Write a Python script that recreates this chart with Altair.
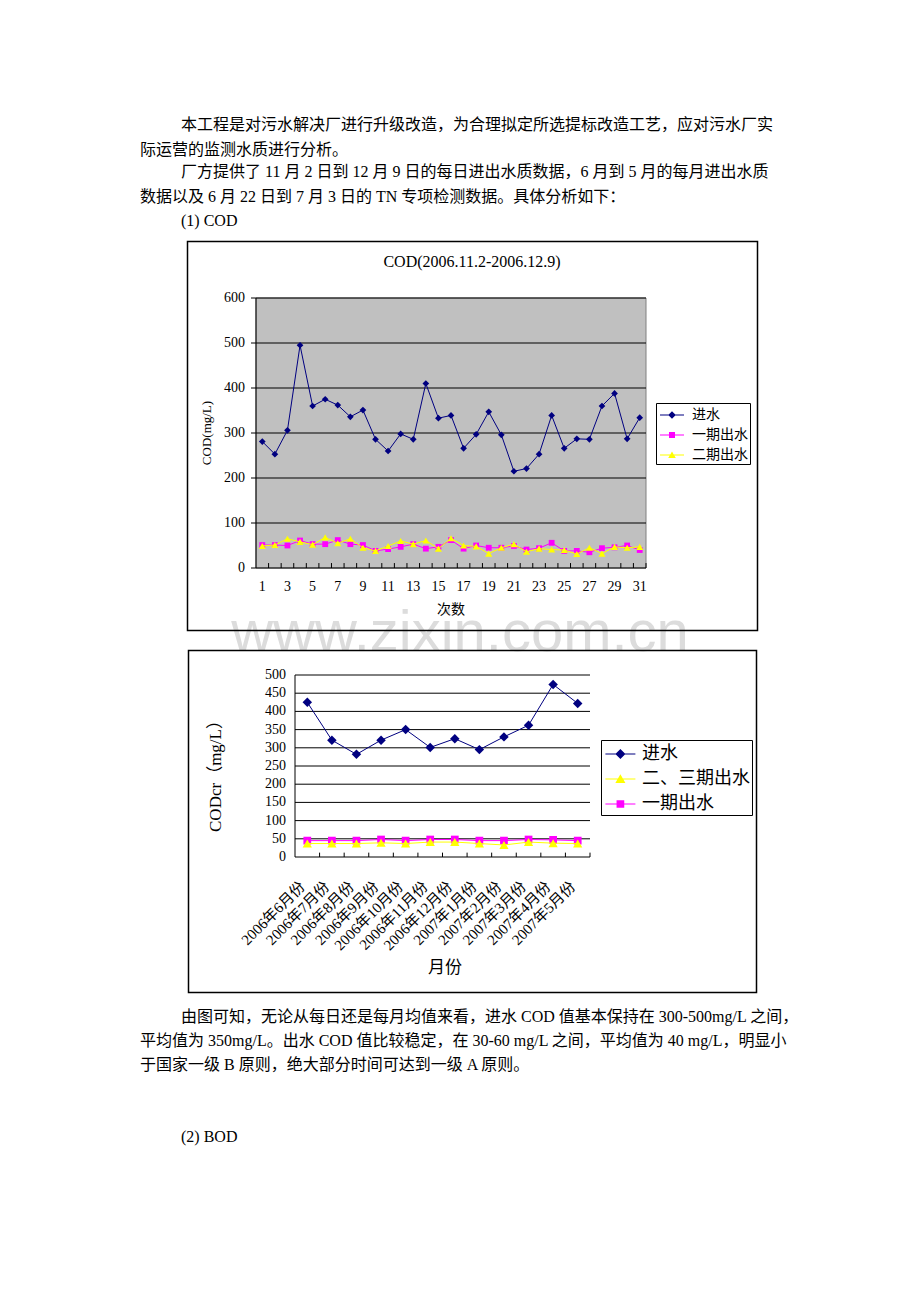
import json
import altair as alt
import pandas as pd

W, H = 920, 1302
LATIN = "Liberation Serif, Noto Sans CJK SC"
CJK = "Liberation Serif, Noto Sans CJK SC"

# ---------------- text of the page ----------------
body_top = [
    "本工程是对污水解决厂进行升级改造，为合理拟定所选提标改造工艺，应对污水厂实",
    "际运营的监测水质进行分析。",
    "厂方提供了 11 月 2 日到 12 月 9 日的每日进出水质数据，6 月到 5 月的每月进出水质",
    "数据以及 6 月 22 日到 7 月 3 日的 TN 专项检测数据。具体分析如下：",
    "(1) COD",
]
body_bottom = [
    "由图可知，无论从每日还是每月均值来看，进水 COD 值基本保持在 300-500mg/L 之间，",
    "平均值为 350mg/L。出水 COD 值比较稳定，在 30-60 mg/L 之间，平均值为 40 mg/L，明显小",
    "于国家一级 B 原则，绝大部分时间可达到一级 A 原则。",
    "(2) BOD",
]
watermark = "www.zixin.com.cn"

# ---------------- chart 1 data (daily) ----------------
chart1_title = "COD(2006.11.2-2006.12.9)"
chart1_xtitle = "次数"
chart1_ytitle = "COD(mg/L)"
days = list(range(1, 32))
cod_in = [281, 253, 306, 495, 360, 375, 362, 336, 351, 286, 260, 298, 286, 410, 333, 339,
          266, 297, 347, 296, 215, 221, 253, 339, 266, 287, 286, 360, 388, 287, 334]
cod_out1 = [51, 51, 50, 61, 53, 53, 62, 53, 51, 38, 42, 47, 53, 43, 47, 62,
            43, 50, 45, 45, 49, 41, 44, 56, 38, 38, 35, 44, 46, 50, 40]
cod_out2 = [49, 51, 65, 58, 52, 68, 55, 65, 45, 38, 49, 60, 53, 61, 43, 66,
            50, 48, 32, 45, 53, 36, 43, 41, 40, 31, 45, 32, 47, 45, 47]
series1 = ["进水", "一期出水", "二期出水"]
yticks1 = [0, 100, 200, 300, 400, 500, 600]
xlabels1 = list(range(1, 32, 2))

# ---------------- chart 2 data (monthly) ----------------
chart2_xtitle = "月份"
chart2_ytitle = "CODcr（mg/L）"
months = ["2006年6月份", "2006年7月份", "2006年8月份", "2006年9月份", "2006年10月份",
          "2006年11月份", "2006年12月份", "2007年1月份", "2007年2月份", "2007年3月份",
          "2007年4月份", "2007年5月份"]
codcr_in = [425, 321, 282, 321, 350, 301, 325, 295, 330, 362, 474, 422]
codcr_out23 = [37, 37, 37, 39, 37, 41, 41, 37, 33, 41, 38, 37]
codcr_out1 = [45, 45, 45, 48, 45, 48, 48, 45, 45, 48, 47, 45]
series2 = ["进水", "二、三期出水", "一期出水"]
yticks2 = list(range(0, 501, 50))

NAVY, MAG, YEL = "#000080", "#FF00FF", "#FFFF00"


def text_layer(s, x, y, size=16, color="black", font=CJK, align="left", angle=0):
    return alt.Chart(pd.DataFrame({"t": [s]})).mark_text(
        align=align, baseline="middle", font=font, fontSize=size, color=color, angle=angle
    ).encode(text="t:N", x=alt.value(x), y=alt.value(y))


def frame(x0, y0, x1, y1):
    return alt.Chart(pd.DataFrame({"k": [0]})).mark_rect(
        fill="white", fillOpacity=0, stroke="black", strokeWidth=1.5
    ).encode(x=alt.value(x0), x2=alt.value(x1), y=alt.value(y0), y2=alt.value(y1))


def legend_layer(series, colors, paths, size, lx, ly, fsize, loff, pad, rowpad):
    leg = alt.Legend(orient="none", legendX=lx, legendY=ly, title=None, padding=pad,
                     strokeColor="black", fillColor="white", labelFont=CJK,
                     labelFontSize=fsize, labelColor="black", symbolSize=size,
                     symbolStrokeWidth=0, symbolOpacity=1, labelOffset=loff,
                     rowPadding=rowpad, labelLimit=400, cornerRadius=0)
    df = pd.DataFrame({"series": series})
    return alt.Chart(df).mark_point(filled=True, opacity=1, size=size).encode(
        x=alt.value(-400), y=alt.value(-400),
        color=alt.Color("series:N", scale=alt.Scale(domain=series, range=colors), legend=leg),
        shape=alt.Shape("series:N", scale=alt.Scale(domain=series, range=paths), legend=leg),
    )


def series_layers(xs, ys, color, shape, size, sx, sy):
    df = pd.DataFrame({"x": xs, "v": ys})
    base = alt.Chart(df).encode(
        x=alt.X("x:Q", scale=sx, axis=None),
        y=alt.Y("v:Q", scale=sy, axis=None),
    )
    return [base.mark_line(color=color, strokeWidth=1),
            base.mark_point(shape=shape, filled=True, color=color, size=size, opacity=1)]


# ================= chart 1 =================
sx1 = alt.Scale(domain=[0.5, 31.5], range=[256, 646], nice=False, zero=False)
sy1 = alt.Scale(domain=[0, 600], range=[568, 298], nice=False, zero=False)
x_lo1, x_hi1 = days[0] - 0.5, days[-1] + 0.5

bg1 = alt.Chart(pd.DataFrame({"a": [x_lo1], "b": [x_hi1],
                              "c": [yticks1[0]], "d": [yticks1[-1]]})).mark_rect(
    fill="#C0C0C0", stroke="#808080", strokeWidth=1
).encode(x=alt.X("a:Q", scale=sx1, axis=None), x2="b:Q",
         y=alt.Y("c:Q", scale=sy1, axis=None), y2="d:Q")

grid1 = alt.Chart(pd.DataFrame({"g": yticks1[1:], "a": x_lo1, "b": x_hi1})
                  ).mark_rule(color="black", strokeWidth=1).encode(
    x=alt.X("a:Q", scale=sx1, axis=None), x2="b:Q",
    y=alt.Y("g:Q", scale=sy1, axis=None))

# axis lines (left and bottom)
dom1 = alt.Chart(pd.DataFrame({"a": [x_lo1, x_lo1], "b": [x_lo1, x_hi1],
                               "c": [0, 0], "d": [600, 0]})
                 ).mark_rule(color="black", strokeWidth=1).encode(
    x=alt.X("a:Q", scale=sx1, axis=None), x2="b:Q",
    y=alt.Y("c:Q", scale=sy1, axis=None), y2="d:Q")

ticks1 = alt.Chart(pd.DataFrame({"b": [d + 0.5 for d in days], "y0": 0, "y1": 11})
                   ).mark_rule(color="black", strokeWidth=1).encode(
    x=alt.X("b:Q", scale=sx1, axis=None),
    y=alt.Y("y0:Q", scale=sy1, axis=None), y2="y1:Q")

yt1 = alt.Chart(pd.DataFrame({"v": yticks1}))
ytick_marks1 = yt1.mark_rule(color="black", strokeWidth=1).encode(
    x=alt.value(251), x2=alt.value(256), y=alt.Y("v:Q", scale=sy1, axis=None))
ylabels1 = yt1.mark_text(align="right", baseline="middle", font=LATIN, fontSize=14,
                         color="black").encode(
    x=alt.value(245), y=alt.Y("v:Q", scale=sy1, axis=None), text="v:Q")
xlabels1_l = alt.Chart(pd.DataFrame({"d": xlabels1})).mark_text(
    align="center", baseline="middle", font=LATIN, fontSize=14, color="black").encode(
    x=alt.X("d:Q", scale=sx1, axis=None), y=alt.value(587), text="d:Q")

paths1 = [
    "M-0.8,-0.05L1.6,-0.05L1.6,0.05L-0.8,0.05Z M0.4,-0.38L0.78,0L0.4,0.38L0.02,0Z",
    "M-0.8,-0.05L1.6,-0.05L1.6,0.05L-0.8,0.05Z M0.1,-0.3L0.7,-0.3L0.7,0.3L0.1,0.3Z",
    "M-0.8,-0.05L1.6,-0.05L1.6,0.05L-0.8,0.05Z M0.4,-0.36L0.78,0.3L0.02,0.3Z",
]
leg1 = legend_layer(series1, [NAVY, MAG, YEL], paths1, 400, 656, 403, 14, 14, 2, 3)

c1_layers = [bg1, grid1, ticks1, dom1, ytick_marks1, ylabels1, xlabels1_l]
c1_layers += series_layers(days, cod_in, NAVY, "diamond", 45, sx1, sy1)
c1_layers += series_layers(days, cod_out1, MAG, "square", 34, sx1, sy1)
c1_layers += series_layers(days, cod_out2, YEL, "triangle-up", 50, sx1, sy1)
c1_layers += [leg1]
chart1 = alt.layer(*c1_layers)

# ================= chart 2 =================
idx = list(range(len(months)))
sx2 = alt.Scale(domain=[-0.5, len(months) - 0.5], range=[295, 590], nice=False, zero=False)
sy2 = alt.Scale(domain=[0, 500], range=[857, 675], nice=False, zero=False)
x_lo2, x_hi2 = -0.5, len(months) - 0.5

grid2 = alt.Chart(pd.DataFrame({"g": yticks2, "a": x_lo2, "b": x_hi2})
                  ).mark_rule(color="black", strokeWidth=1).encode(
    x=alt.X("a:Q", scale=sx2, axis=None), x2="b:Q",
    y=alt.Y("g:Q", scale=sy2, axis=None))

dom2 = alt.Chart(pd.DataFrame({"a": [x_lo2], "c": [0], "d": [500]})
                 ).mark_rule(color="black", strokeWidth=1).encode(
    x=alt.X("a:Q", scale=sx2, axis=None),
    y=alt.Y("c:Q", scale=sy2, axis=None), y2="d:Q")

ticks2 = alt.Chart(pd.DataFrame({"b": [i + 0.5 for i in idx], "y0": 0, "y1": 12})
                   ).mark_rule(color="black", strokeWidth=1).encode(
    x=alt.X("b:Q", scale=sx2, axis=None),
    y=alt.Y("y0:Q", scale=sy2, axis=None), y2="y1:Q")

ylabels2 = alt.Chart(pd.DataFrame({"v": yticks2})).mark_text(
    align="right", baseline="middle", font=LATIN, fontSize=14, color="black").encode(
    x=alt.value(286), y=alt.Y("v:Q", scale=sy2, axis=None), text="v:Q")

xlabels2 = alt.Chart(pd.DataFrame({"i": idx, "m": months})).mark_text(
    align="right", baseline="middle", font=LATIN, fontSize=15, color="black",
    angle=315, dx=-3.5, dy=-3.5).encode(
    x=alt.X("i:Q", scale=sx2, axis=None), y=alt.value(884), text="m:N")

paths2 = [
    "M-0.8,-0.05L1.7,-0.05L1.7,0.05L-0.8,0.05Z M0.45,-0.42L0.87,0L0.45,0.42L0.03,0Z",
    "M-0.8,-0.05L1.7,-0.05L1.7,0.05L-0.8,0.05Z M0.45,-0.4L0.87,0.33L0.03,0.33Z",
    "M-0.8,-0.05L1.7,-0.05L1.7,0.05L-0.8,0.05Z M0.13,-0.32L0.77,-0.32L0.77,0.32L0.13,0.32Z",
]
leg2 = legend_layer(series2, [NAVY, YEL, MAG], paths2, 576, 601, 740, 18, 15, 2, 4)

c2_layers = [grid2, ticks2, dom2, ylabels2, xlabels2]
c2_layers += series_layers(idx, codcr_in, NAVY, "diamond", 90, sx2, sy2)
c2_layers += series_layers(idx, codcr_out1, MAG, "square", 60, sx2, sy2)
c2_layers += series_layers(idx, codcr_out23, YEL, "triangle-up", 85, sx2, sy2)
c2_layers += [leg2]
chart2 = alt.layer(*c2_layers)

# ================= page =================
layers = []
layers.append(text_layer(watermark, 460, 634, size=58, color="#DCDCDC",
                         font="Liberation Sans", align="center"))
top_pos = [(181, 125), (140, 150), (181, 172), (140, 197), (181, 221)]
for s, (x, y) in zip(body_top, top_pos):
    layers.append(text_layer(s, x, y))
bot_pos = [(181, 1017), (140, 1041), (140, 1065), (181, 1137)]
for s, (x, y) in zip(body_bottom, bot_pos):
    layers.append(text_layer(s, x, y))
layers.append(text_layer(chart1_title, 472, 262, size=16, font=LATIN, align="center"))
layers.append(text_layer(chart1_xtitle, 451, 610, size=14, align="center"))
layers.append(text_layer(chart1_ytitle, 207, 433, size=13, font=LATIN, align="center", angle=270))
layers.append(text_layer(chart2_xtitle, 445, 968, size=17, align="center"))
layers.append(text_layer(chart2_ytitle, 216, 772, size=17, font=LATIN, align="center", angle=270))
layers.append(frame(187.5, 241.5, 757.5, 630.5))
layers.append(frame(188.5, 650.5, 756.5, 992.5))
layers.append(chart1)
layers.append(chart2)

chart = alt.layer(*layers).resolve_scale(
    x="independent", y="independent", color="independent", shape="independent"
).properties(
    width=W, height=H, padding=0, background="white",
    autosize=alt.AutoSizeParams(type="none"),
).configure_view(strokeWidth=0)

chart.save("out.html", embed_options={"renderer": "svg", "actions": False})
